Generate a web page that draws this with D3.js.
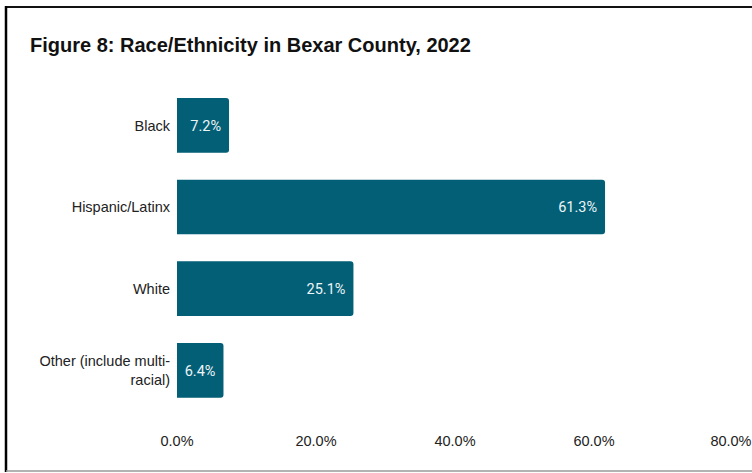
<!DOCTYPE html>
<html>
<head>
<meta charset="utf-8">
<script src="https://cdn.jsdelivr.net/npm/d3@7"></script>
<style>
  html, body { margin: 0; padding: 0; background: #fff; }
  svg { display: block; }
</style>
</head>
<body>
<svg id="chart" width="752" height="473"></svg>
<script>
// Share of Bexar County population by race/ethnicity, 2022
const categories = ["Black", "Hispanic/Latinx", "White", "Other (include multi-racial)"];
const categoryLines = [["Black"], ["Hispanic/Latinx"], ["White"], ["Other (include multi-", "racial)"]];
const shares = [7.2, 61.3, 25.1, 6.4];
const tickValues = [0, 20, 40, 60, 80];
const tickLabels = ["0.0%", "20.0%", "40.0%", "60.0%", "80.0%"];

const svg = d3.select("#chart");
const W = 752, H = 473;

// Frame around the figure
svg.append("line").attr("x1", 6).attr("x2", W + 5).attr("y1", 7).attr("y2", 7)
  .attr("stroke", "#111").attr("stroke-width", 2);
svg.append("line").attr("x1", 6).attr("x2", 6).attr("y1", 6).attr("y2", 472)
  .attr("stroke", "#000").attr("stroke-width", 2.5);
svg.append("line").attr("x1", 6).attr("x2", W + 5).attr("y1", 471).attr("y2", 471)
  .attr("stroke", "#9a9a9a").attr("stroke-width", 1.5);

// Title
svg.append("text")
  .attr("x", 30).attr("y", 52)
  .attr("font-family", "'Liberation Sans', Arial, sans-serif")
  .attr("font-weight", "bold")
  .attr("font-size", 20)
  .attr("fill", "#111")
  .text("Figure 8: Race/Ethnicity in Bexar County, 2022");

const x = d3.scaleLinear().domain([0, 80]).range([179, 735]);
const y = d3.scaleBand().domain(categories).range([84.5, 411.2])
  .paddingInner(0.33).paddingOuter(0.165);

const barColor = "#035f76";
const r = 3;
const x0 = x(0) - 2;

// Bars: square on the baseline side, rounded on the value end
function barPath(v, cat) {
  const x1 = x(v), yt = y(cat), yb = yt + y.bandwidth();
  const p = d3.path();
  p.moveTo(x0, yt);
  p.lineTo(x1 - r, yt);
  p.quadraticCurveTo(x1, yt, x1, yt + r);
  p.lineTo(x1, yb - r);
  p.quadraticCurveTo(x1, yb, x1 - r, yb);
  p.lineTo(x0, yb);
  p.closePath();
  return p.toString();
}

svg.append("g").selectAll("path")
  .data(categories)
  .join("path")
  .attr("d", (c, i) => barPath(shares[i], c))
  .attr("fill", barColor);

// Value labels inside the bar ends
svg.append("g").selectAll("text")
  .data(categories)
  .join("text")
  .attr("x", (c, i) => x(shares[i]) - 8)
  .attr("y", c => y(c) + y.bandwidth() / 2)
  .attr("dy", "0.36em")
  .attr("text-anchor", "end")
  .attr("font-family", "Roboto, 'Noto Sans', sans-serif")
  .attr("font-size", 14.5)
  .attr("fill", "#eef5f7")
  .text((c, i) => shares[i].toFixed(1) + "%");

// Category labels (left axis)
const catG = svg.append("g").selectAll("text")
  .data(categories)
  .join("text")
  .attr("x", 170)
  .attr("y", c => y(c) + y.bandwidth() / 2)
  .attr("text-anchor", "end")
  .attr("font-family", "'Liberation Sans', Arial, sans-serif")
  .attr("font-size", 14.5)
  .attr("fill", "#222");
catG.each(function(c, i) {
  const lines = categoryLines[i];
  const lh = 19;
  const start = -(lines.length - 1) * lh / 2;
  d3.select(this).selectAll("tspan")
    .data(lines)
    .join("tspan")
    .attr("x", 170)
    .attr("dy", (d, j) => j === 0 ? (start / 14.5 + 0.36) + "em" : lh + "px")
    .text(d => d);
});

// Bottom axis tick labels
const axis = d3.axisBottom(x)
  .tickValues(tickValues)
  .tickFormat((d, i) => tickLabels[i])
  .tickSize(0)
  .tickPadding(0);
const ax = svg.append("g").attr("transform", "translate(-2.5, 436)").call(axis);
ax.select(".domain").remove();
ax.selectAll("text")
  .attr("font-family", "'Liberation Sans', Arial, sans-serif")
  .attr("font-size", 14.5)
  .attr("fill", "#222");
// keep the last label inside the right edge
ax.selectAll(".tick").filter(d => d === 80).select("text")
  .attr("text-anchor", "end")
  .attr("x", W - 1 - (x(80) - 2.5));
</script>
</body>
</html>
